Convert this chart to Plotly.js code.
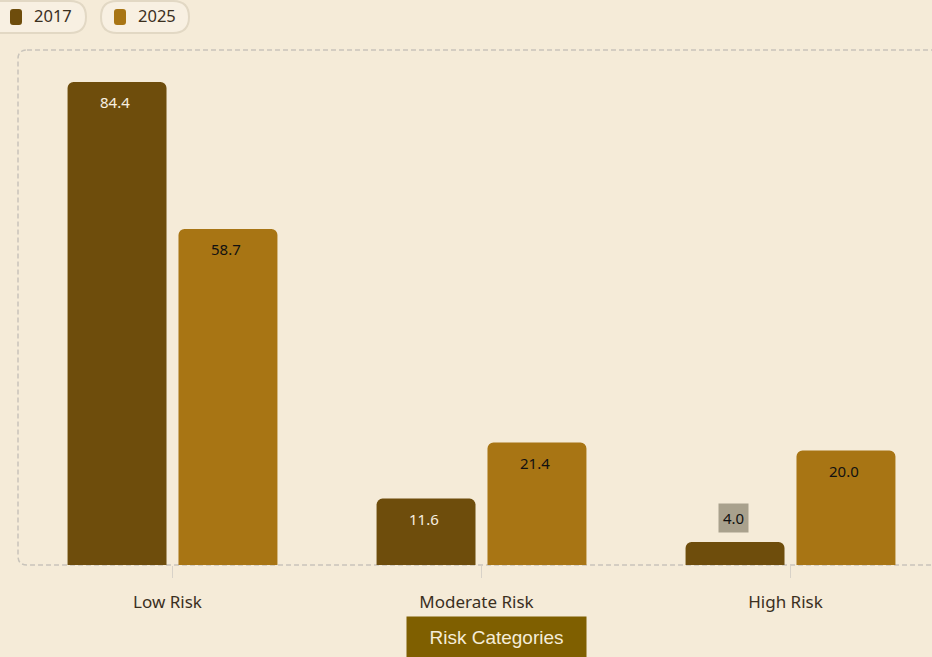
<!DOCTYPE html>
<html>
<head>
<meta charset="utf-8">
<script src="https://cdn.plot.ly/plotly-3.0.1.min.js"></script>
<style>html,body{margin:0;padding:0;background:#f5ebd8;}#chart{width:932px;height:657px;}</style>
</head>
<body>
<div id="chart"></div>
<script>
// ---- data ----
const categories = ['Low Risk', 'Moderate Risk', 'High Risk'];
const seriesNames = ['2017', '2025'];
const values2017 = [84.4, 11.6, 4.0];
const values2025 = [58.7, 21.4, 20.0];
const axisTitle = 'Risk Categories';

// ---- style ----
const seriesColors = ['#6e4d0c', '#a87514'];
const labelColors = ['#f7efe0', '#111111'];
const bg = '#f5ebd8';
const W = 932, H = 657, ML = 18, MR = 0, MT = 50, MB = 92;
const PW = W - ML - MR, PH = H - MT - MB;
const band = 309; // px per category

const px = X => (X - ML) / PW;
const py = Y => (H - MB - Y) / PH;
function rr(X0, Y0, X1, Y1, r) {
  const p = (X, Y) => px(X).toFixed(5) + ',' + py(Y).toFixed(5);
  return 'M' + p(X0 + r, Y0) + ' L' + p(X1 - r, Y0) + ' Q' + p(X1, Y0) + ' ' + p(X1, Y0 + r) +
    ' L' + p(X1, Y1 - r) + ' Q' + p(X1, Y1) + ' ' + p(X1 - r, Y1) +
    ' L' + p(X0 + r, Y1) + ' Q' + p(X0, Y1) + ' ' + p(X0, Y1 - r) +
    ' L' + p(X0, Y0 + r) + ' Q' + p(X0, Y0) + ' ' + p(X0 + r, Y0) + ' Z';
}

const allValues = [values2017, values2025];
const traces = allValues.map((vals, i) => ({
  type: 'bar',
  name: seriesNames[i],
  x: categories,
  y: vals,
  marker: { color: seriesColors[i], line: { width: 0 } },
  hoverinfo: 'x+y+name'
}));

const xrange = [-0.5, -0.5 + PW / band];
const slotOffset = 55.5 / band;

const annotations = [];
allValues.forEach((vals, s) => {
  vals.forEach((v, c) => {
    const xpos = c + (s === 0 ? -slotOffset : slotOffset);
    if (v < 8) {
      annotations.push({
        x: xpos, y: v, xref: 'x', yref: 'y', text: v.toFixed(1), showarrow: false,
        yshift: 24, xshift: -2, bgcolor: '#a9a18d', borderpad: 4,
        font: { family: 'Noto Sans', size: 15, color: '#111111' }
      });
    } else {
      annotations.push({
        x: xpos, y: v, xref: 'x', yref: 'y', text: v.toFixed(1), showarrow: false,
        yshift: -20, xshift: -2,
        font: { family: 'Noto Sans', size: 15, color: labelColors[s] }
      });
    }
  });
});

// custom legend
const shapes = [];
const pills = [[-20, 1, 86, 33], [101, 1, 189, 33]];
seriesNames.forEach((n, i) => {
  const [a, b, c, d] = pills[i];
  shapes.push({ type: 'path', xref: 'paper', yref: 'paper', path: rr(a, b, c, d, 16),
    fillcolor: '#f8f0e2', line: { color: '#e2d8c4', width: 2 }, layer: 'above' });
  const sx = a < 0 ? 10 : a + 13;
  shapes.push({ type: 'path', xref: 'paper', yref: 'paper', path: rr(sx, 9, sx + 12, 25, 3),
    fillcolor: seriesColors[i], line: { width: 0 }, layer: 'above' });
  annotations.push({ xref: 'paper', yref: 'paper', x: px(sx + 22), y: py(16), xanchor: 'left', yanchor: 'middle',
    text: n, showarrow: false, font: { family: 'Noto Sans', size: 16.5, color: '#3b2f1e' } });
});

// dashed plot frame
shapes.push({ type: 'path', xref: 'paper', yref: 'paper', path: rr(18, 50, 945, 565, 9),
  fillcolor: 'rgba(0,0,0,0)', line: { color: '#c9c4bb', width: 1.5, dash: '5px,3px' }, layer: 'below' });

// axis title box
annotations.push({ xref: 'paper', yref: 'paper', x: px(496.5), y: py(637), xanchor: 'center', yanchor: 'middle',
  text: axisTitle, showarrow: false, bgcolor: '#7f5f00', width: 159, height: 21, borderpad: 10,
  font: { family: 'Liberation Sans, Arial, sans-serif', size: 19, color: '#f5ecd8' } });

const layout = {
  width: W, height: H,
  margin: { l: ML, r: MR, t: MT, b: MB, pad: 0 },
  paper_bgcolor: bg, plot_bgcolor: bg,
  barmode: 'group', bargap: 0.282, bargroupgap: 0.108, barcornerradius: 6,
  showlegend: false,
  xaxis: {
    type: 'category', range: xrange, showgrid: false, zeroline: false, showline: false,
    ticks: 'outside', ticklen: 12, tickwidth: 1, tickcolor: '#d8d2c8', ticklabelstandoff: 10,
    ticklabelshift: -5,
    tickfont: { family: 'Noto Sans', size: 17, color: '#3b2f1e' }
  },
  yaxis: { range: [0, 90], visible: false, showgrid: false, zeroline: false },
  shapes: shapes,
  annotations: annotations
};

Plotly.newPlot('chart', traces, layout, { displayModeBar: false, staticPlot: true });
</script>
</body>
</html>
